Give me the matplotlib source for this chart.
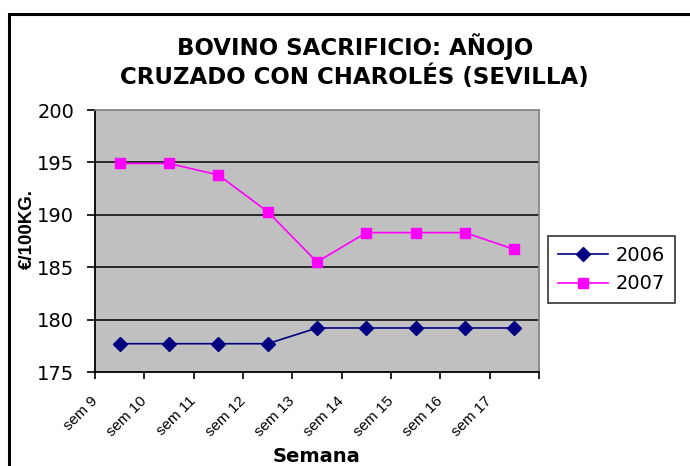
import matplotlib
matplotlib.use("Agg")
import matplotlib.pyplot as plt
from matplotlib.patches import Rectangle
from matplotlib.lines import Line2D

plt.rcParams['font.family'] = ['Liberation Sans', 'DejaVu Sans']

weeks = ["sem 9", "sem 10", "sem 11", "sem 12", "sem 13", "sem 14", "sem 15", "sem 16", "sem 17"]
s2006 = [177.7, 177.7, 177.7, 177.7, 179.2, 179.2, 179.2, 179.2, 179.2]
s2007 = [194.9, 194.9, 193.8, 190.3, 185.5, 188.3, 188.3, 188.3, 186.7]
yticks = [175, 180, 185, 190, 195, 200]

W, H = 690, 466
fig = plt.figure(figsize=(W / 100, H / 100), dpi=100)
fig.patch.set_facecolor('white')

WIDE = ['DejaVu Sans']

# outer chart border
fig.add_artist(Rectangle((9 / W, -0.2), 1.2, 1.2 - 14 / H, transform=fig.transFigure,
                         fill=False, edgecolor='black', linewidth=2.2, clip_on=False))

L, R, T, B = 95, 539, 110, 372
ax = fig.add_axes([L / W, 1 - B / H, (R - L) / W, (B - T) / H])
ax.set_facecolor('#C0C0C0')

n = len(weeks)
xs = [i + 0.5 for i in range(n)]
ax.set_xlim(0, n)
ax.set_ylim(175, 200)

for v in yticks[1:-1]:
    ax.axhline(v, color='black', linewidth=1.1, zorder=1)

ax.plot(xs, s2006, color='#000080', linewidth=1.2, marker='D', markersize=7,
        markerfacecolor='#000080', markeredgecolor='#000080', zorder=3)
ax.plot(xs, s2007, color='#FF00FF', linewidth=1.2, marker='s', markersize=7,
        markerfacecolor='#FF00FF', markeredgecolor='#FF00FF', zorder=3)

for side in ['top', 'right']:
    ax.spines[side].set_color('#808080')
    ax.spines[side].set_linewidth(1.2)
for side in ['left', 'bottom']:
    ax.spines[side].set_color('black')
    ax.spines[side].set_linewidth(1.3)

ax.set_yticks(yticks)
ax.set_yticklabels([str(v) for v in yticks], fontsize=14, family=WIDE)
ax.tick_params(axis='y', direction='out', length=6, width=1.2, pad=9)

ax.set_xticks(range(n + 1))
ax.set_xticklabels([])
ax.tick_params(axis='x', direction='out', length=5, width=1.2)
for i, lab in enumerate(weeks):
    ax.text(i - 0.1, 172.9, lab, rotation=45, rotation_mode='anchor', ha='right', va='top',
            fontsize=11, transform=ax.transData, clip_on=False)

fig.text(355 / W, 1 - 47 / H, "BOVINO SACRIFICIO: AÑOJO", ha='center', va='center',
         fontsize=16.5, fontweight='bold', family=WIDE)
fig.text(354 / W, 1 - 77 / H, "CRUZADO CON CHAROLÉS (SEVILLA)", ha='center', va='center',
         fontsize=16.5, fontweight='bold', family=WIDE)
fig.text(27 / W, 1 - 229 / H, "€/100KG.", rotation=90, ha='center', va='center',
         fontsize=13.5, fontweight='bold')
fig.text(317 / W, 1 - 456 / H, "Semana", ha='center', va='center',
         fontsize=14, fontweight='bold', family=WIDE)

handles = [Line2D([], [], color='#000080', linewidth=1.2, marker='D', markersize=7),
           Line2D([], [], color='#FF00FF', linewidth=1.2, marker='s', markersize=7)]
leg = fig.legend(handles, ["2006", "2007"], loc='upper left',
                 bbox_to_anchor=(548 / W, 1 - 236 / H), frameon=True,
                 prop={'family': WIDE, 'size': 14},
                 fancybox=False, edgecolor='black', handlelength=2.6, handletextpad=0.4,
                 borderpad=0.5, labelspacing=0.5, borderaxespad=0)
leg.get_frame().set_linewidth(1.2)

fig.savefig("out.png", dpi=100)
